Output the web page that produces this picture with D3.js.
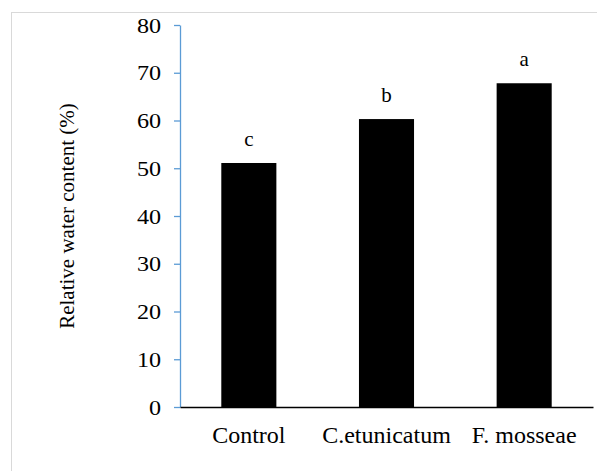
<!DOCTYPE html>
<html>
<head>
<meta charset="utf-8">
<script src="https://cdn.jsdelivr.net/npm/d3@7"></script>
<style>
  html, body { margin: 0; padding: 0; background: #fff; }
  svg text { font-family: "Liberation Serif", "Times New Roman", Times, "DejaVu Serif", serif !important; fill: #000; }
</style>
</head>
<body>
<svg id="chart" width="597" height="471"></svg>
<script>
// Relative water content by inoculation treatment
const categories = ["Control", "C.etunicatum", "F. mosseae"];
const values = [51.1, 60.3, 67.8];
const letters = ["c", "b", "a"];
const yTicks = [0, 10, 20, 30, 40, 50, 60, 70, 80];

const svg = d3.select("#chart");
const W = 597, H = 471;
const m = { left: 180, right: 4, top: 25, bottom: 64 };

// outer frame
svg.append("rect")
  .attr("x", 11.5).attr("y", 12.5)
  .attr("width", W + 20).attr("height", H + 20)
  .attr("fill", "none").attr("stroke", "#d9d9d9").attr("stroke-width", 1);

const x = d3.scaleBand()
  .domain(categories)
  .range([m.left, W - m.right])
  .paddingInner(0.6)
  .paddingOuter(0.3);

const y = d3.scaleLinear()
  .domain([0, 80])
  .range([H - m.bottom, m.top]);

// bars
svg.append("g").selectAll("rect")
  .data(categories)
  .join("rect")
  .attr("x", d => x(d))
  .attr("width", x.bandwidth())
  .attr("y", (d, i) => y(values[i]))
  .attr("height", (d, i) => y(0) - y(values[i]))
  .attr("fill", "#000");

// significance letters
svg.append("g").selectAll("text")
  .data(categories)
  .join("text")
  .attr("x", d => x(d) + x.bandwidth() / 2)
  .attr("y", (d, i) => y(values[i]) - 17)
  .attr("text-anchor", "middle")
  .style("font-size", "21px")
  .text((d, i) => letters[i]);

// y axis
const yAxis = svg.append("g")
  .attr("transform", `translate(${m.left},0)`)
  .call(d3.axisLeft(y).tickValues(yTicks).tickSize(6).tickPadding(13).tickSizeOuter(0));
yAxis.attr("font-family", null);
yAxis.select(".domain").attr("stroke", "#5b9bd5").attr("stroke-width", 1.3);
yAxis.selectAll(".tick line").attr("stroke", "#5b9bd5").attr("stroke-width", 1.3);
yAxis.selectAll(".tick text")
  .attr("dy", "0.34em")
  .style("font-size", "21px")
  .attr("transform", "scale(1.15,1)")
  .attr("x", -19 / 1.15);

// x axis baseline
const xAxis = svg.append("g")
  .attr("transform", `translate(0,${y(0)})`)
  .call(d3.axisBottom(x).tickSize(0).tickPadding(20).tickSizeOuter(0));
xAxis.attr("font-family", null);
xAxis.select(".domain").attr("stroke", "#000").attr("stroke-width", 1.5);
xAxis.selectAll(".tick text")
  .style("font-size", "24px")
  .attr("dy", "0.68em");

// y axis title
svg.append("text")
  .attr("transform", `translate(74,${(y(0) + y(80)) / 2}) rotate(-90)`)
  .attr("text-anchor", "middle")
  .style("font-size", "21px")
  .text("Relative water content (%)");
</script>
</body>
</html>
